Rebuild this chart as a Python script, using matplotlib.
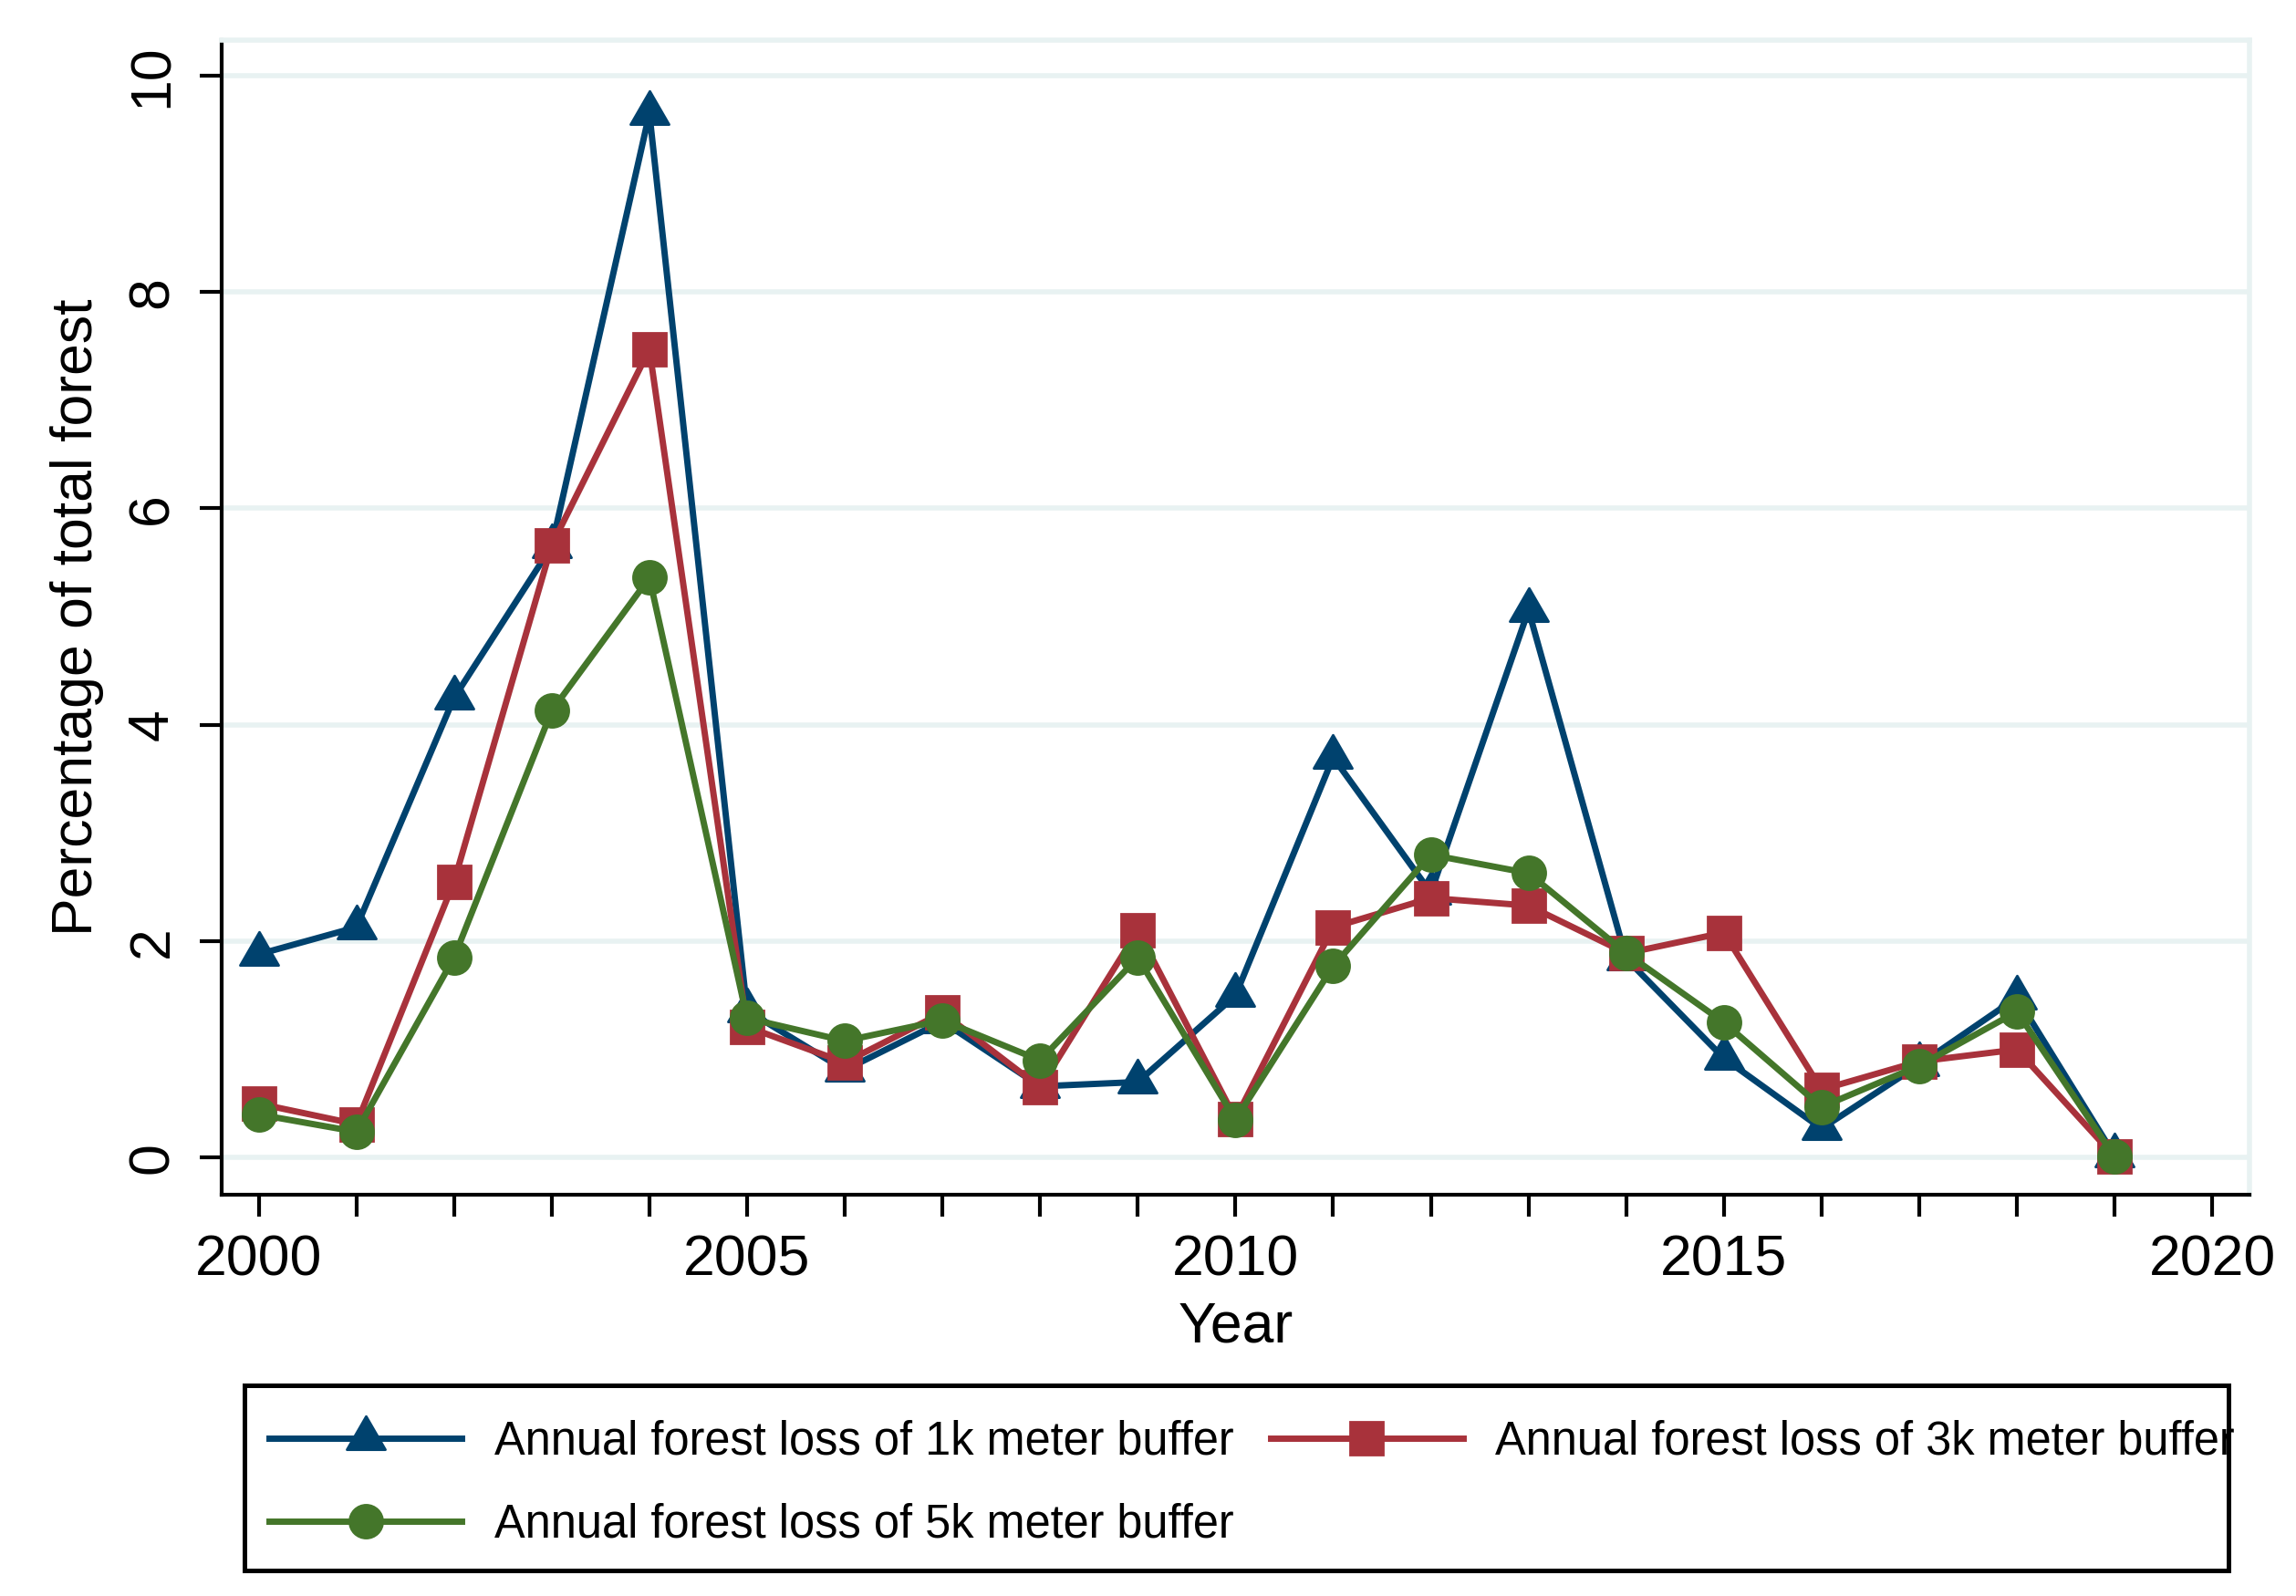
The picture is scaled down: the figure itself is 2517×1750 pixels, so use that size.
import matplotlib
matplotlib.use("Agg")
import matplotlib.pyplot as plt
from matplotlib.path import Path
from matplotlib.patches import Rectangle
from matplotlib.ticker import MultipleLocator
import numpy as np

years = list(range(2000, 2020))
loss_1k = [1.88, 2.13, 4.25, 5.65, 9.65, 1.36, 0.81, 1.26, 0.66, 0.70,
           1.50, 3.70, 2.45, 5.06, 1.84, 0.92, 0.27, 0.86, 1.48, 0.02]
loss_3k = [0.50, 0.31, 2.55, 5.66, 7.47, 1.21, 0.88, 1.34, 0.65, 2.10,
           0.36, 2.13, 2.40, 2.33, 1.89, 2.08, 0.63, 0.89, 1.00, 0.01]
loss_5k = [0.40, 0.24, 1.85, 4.13, 5.36, 1.29, 1.08, 1.27, 0.90, 1.85,
           0.35, 1.77, 2.80, 2.63, 1.89, 1.25, 0.47, 0.85, 1.35, 0.01]
labels = ["Annual forest loss of 1k meter buffer",
          "Annual forest loss of 3k meter buffer",
          "Annual forest loss of 5k meter buffer"]
colors = ["#00426E", "#A8323B", "#44762A"]

plt.rcParams['font.family'] = ['Liberation Sans', 'DejaVu Sans']

fig = plt.figure(figsize=(12.585, 8.75), dpi=200)
ax = fig.add_axes([0.0965, 0.2514, 0.9797 - 0.0965, 0.9749 - 0.2514])

tri = Path([(0, 1), (-0.866, -0.5), (0.866, -0.5), (0, 1)],
           [Path.MOVETO, Path.LINETO, Path.LINETO, Path.CLOSEPOLY])

lw = 2.5
h1, = ax.plot(years, loss_1k, color=colors[0], lw=lw, marker=tri, ms=17.5,
              label=labels[0], zorder=3, clip_on=False)
h2, = ax.plot(years, loss_3k, color=colors[1], lw=lw, marker='s', ms=13,
              label=labels[1], zorder=4, clip_on=False)
h3, = ax.plot(years, loss_5k, color=colors[2], lw=lw, marker='o', ms=13,
              label=labels[2], zorder=5, clip_on=False)

ax.set_xlim(1999.62, 2020.38)
ax.set_ylim(-0.342, 10.328)
ax.xaxis.set_major_locator(MultipleLocator(5))
ax.xaxis.set_minor_locator(MultipleLocator(1))
ax.yaxis.set_major_locator(MultipleLocator(2))

grid_c = '#E8F2F2'
ax.grid(axis='y', color=grid_c, lw=2.0, zorder=0)
ax.set_axisbelow(True)

for s in ['top', 'right']:
    ax.spines[s].set_color(grid_c)
    ax.spines[s].set_linewidth(2.0)
for s in ['left', 'bottom']:
    ax.spines[s].set_color('black')
    ax.spines[s].set_linewidth(1.5)

ax.tick_params(axis='both', which='both', direction='out', length=8.7,
               width=1.5, color='black', labelsize=22.5)
ax.tick_params(axis='x', which='major', pad=6.5)
ax.tick_params(axis='y', which='major', pad=8)
for t in ax.get_yticklabels():
    t.set_rotation(90)
    t.set_va('center')
    t.set_ha('right')

ax.set_xlabel("Year", fontsize=22.5, labelpad=5)
ax.set_ylabel("Percentage of total forest", fontsize=22.5, labelpad=8.5)

# legend box
fig.add_artist(Rectangle((0.1065, 0.016), 0.8641, 0.116, transform=fig.transFigure,
                         fill=False, edgecolor='black', lw=1.8))
leg = fig.legend(handles=[h1, h3, h2], labels=[labels[0], labels[2], labels[1]],
                 ncol=2, frameon=False,
                 loc='upper left', bbox_to_anchor=(295 / 2517, 0.1106),
                 fontsize=18.2, borderpad=0, borderaxespad=0,
                 handlelength=4.18, handletextpad=0.7, columnspacing=0.8,
                 labelspacing=0.84)

fig.savefig("out.png", dpi=200)
